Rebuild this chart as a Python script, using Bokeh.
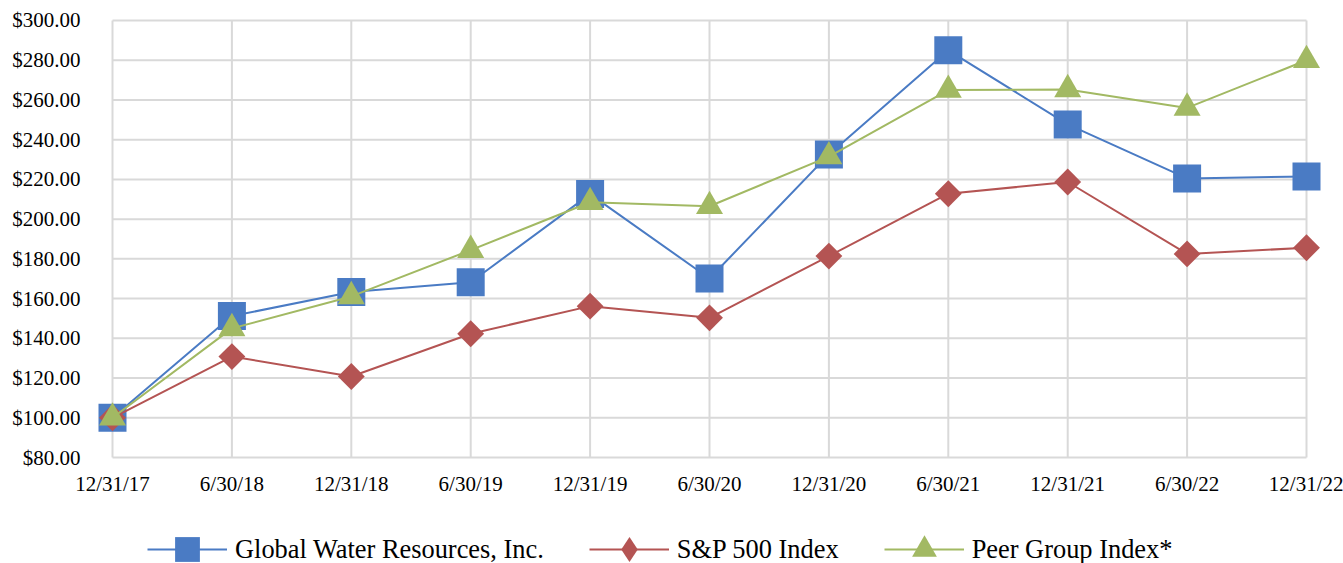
import math
from bokeh.plotting import figure
from bokeh.layouts import column
from bokeh.models import Range1d, FixedTicker, Legend, LegendItem
from bokeh.embed import file_html
from bokeh.resources import INLINE

# ---- data ----
dates = ["12/31/17", "6/30/18", "12/31/18", "6/30/19", "12/31/19", "6/30/20",
         "12/31/20", "6/30/21", "12/31/21", "6/30/22", "12/31/22"]
gwr = [100.0, 151.2, 163.3, 168.2, 212.6, 170.1, 232.6, 285.0, 247.7, 220.5, 221.5]
sp500 = [100.0, 130.8, 120.8, 142.3, 156.2, 150.3, 181.4, 212.8, 218.7, 182.5, 185.6]
peer = [100.0, 145.0, 161.1, 184.4, 208.5, 206.5, 231.5, 265.0, 265.3, 256.0, 280.0]
y_ticks = [80, 100, 120, 140, 160, 180, 200, 220, 240, 260, 280, 300]
y_labels = ["$80.00", "$100.00", "$120.00", "$140.00", "$160.00", "$180.00",
            "$200.00", "$220.00", "$240.00", "$260.00", "$280.00", "$300.00"]
series_names = ["Global Water Resources, Inc.", "S&P 500 Index", "Peer Group Index*"]

x_idx = list(range(len(dates)))

BLUE = "#4A7BC4"
RED = "#B45453"
GREEN = "#A2B963"
GRID = "#D9D9D9"
FONT = "Liberation Serif"

p = figure(width=1343, height=500, output_backend="svg", toolbar_location=None,
           x_range=Range1d(-0.201, 10.1675), y_range=Range1d(77.99, 303.02),
           min_border_left=88, min_border_right=17, min_border_top=14,
           min_border_bottom=39)
p.xgrid.visible = False
p.ygrid.visible = False
p.outline_line_color = None
p.background_fill_color = "white"
p.border_fill_color = "white"

# gridlines (drawn from tick arrays)
n_y = len(y_ticks)
p.segment(x0=[x_idx[0]] * n_y, y0=y_ticks, x1=[x_idx[-1]] * n_y, y1=y_ticks,
          line_color=GRID, line_width=2)
n_x = len(x_idx)
p.segment(x0=x_idx, y0=[y_ticks[0]] * n_x, x1=x_idx, y1=[y_ticks[-1]] * n_x,
          line_color=GRID, line_width=2)

# axes
for ax in (p.xaxis[0], p.yaxis[0]):
    ax.axis_line_color = None
    ax.major_tick_line_color = None
    ax.minor_tick_line_color = None
    ax.major_tick_out = 0
    ax.major_tick_in = 0
    ax.major_label_text_font = FONT
    ax.major_label_text_font_size = "21px"
    ax.major_label_text_color = "#000000"

p.xaxis.ticker = FixedTicker(ticks=x_idx)
p.xaxis.major_label_overrides = {i: d for i, d in zip(x_idx, dates)}
p.xaxis.major_label_standoff = 10
p.yaxis.ticker = FixedTicker(ticks=y_ticks)
p.yaxis.major_label_overrides = {t: l for t, l in zip(y_ticks, y_labels)}
p.yaxis.major_label_standoff = 8

# series
p.line(x_idx, gwr, line_color=BLUE, line_width=2)
p.scatter(x_idx, gwr, marker="square", size=28, fill_color=BLUE, line_color=None)
p.line(x_idx, sp500, line_color=RED, line_width=2)
p.scatter(x_idx, sp500, marker="square", angle=math.pi / 4, size=19,
          fill_color=RED, line_color=None)
p.line(x_idx, peer, line_color=GREEN, line_width=2)
p.scatter(x_idx, peer, marker="triangle", size=27, fill_color=GREEN, line_color=None)

# ---- legend strip (separate figure holding only the legend keys) ----
# its ranges are 0..1, so the series drawn here stay out of view; only the
# legend keys show.
lg = figure(width=1343, height=63, output_backend="svg", toolbar_location=None,
            x_range=Range1d(0, 1), y_range=Range1d(0, 1),
            x_axis_location=None, y_axis_location=None,
            min_border_left=0, min_border_right=0, min_border_top=0,
            min_border_bottom=0)
lg.xgrid.visible = False
lg.ygrid.visible = False
lg.outline_line_color = None
lg.border_fill_color = "white"

k1l = lg.line(x_idx, gwr, line_color=BLUE, line_width=2)
k1s = lg.scatter(x_idx, gwr, marker="square", fill_color=BLUE, line_color=None)
k2l = lg.line(x_idx, sp500, line_color=RED, line_width=2)
k2s = lg.scatter(x_idx, sp500, marker="diamond", fill_color=RED, line_color=None)
k3l = lg.line(x_idx, peer, line_color=GREEN, line_width=2)
k3s = lg.scatter(x_idx, peer, marker="triangle", fill_color=GREEN, line_color=None)

legend = Legend(items=[LegendItem(label=series_names[0], renderers=[k1l, k1s]),
                       LegendItem(label=series_names[1], renderers=[k2l, k2s]),
                       LegendItem(label=series_names[2], renderers=[k3l, k3s])],
                location=(59, -17), orientation="horizontal",
                glyph_width=80, glyph_height=62, label_standoff=8, spacing=45,
                label_text_font=FONT, label_text_font_size="26.4px",
                label_text_color="#000000",
                padding=0, margin=0,
                border_line_color=None, background_fill_alpha=0)
lg.add_layout(legend, "center")

layout = column(p, lg, spacing=0)
open("out.html", "w").write(file_html(layout, INLINE))
